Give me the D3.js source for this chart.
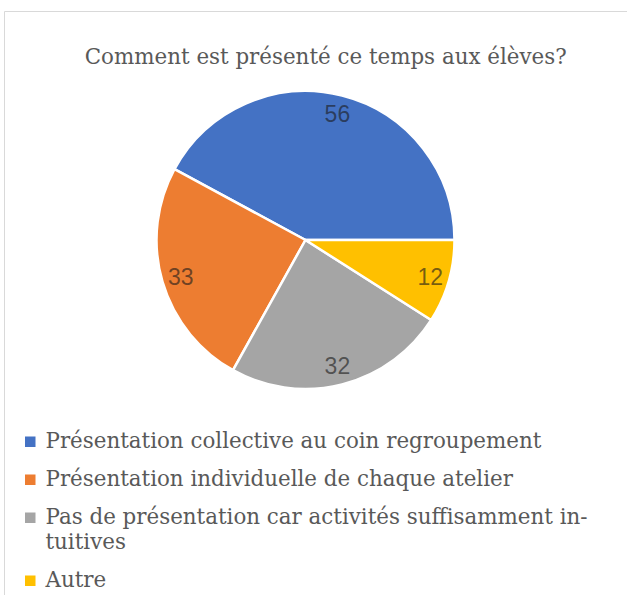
<!DOCTYPE html>
<html>
<head>
<meta charset="utf-8">
<script src="https://cdn.jsdelivr.net/npm/d3@7"></script>
<style>
  html, body { margin: 0; padding: 0; background: #fff; }
  svg { display: block; }
</style>
</head>
<body>
<svg id="chart" width="627" height="595"></svg>
<script>
const title = "Comment est présenté ce temps aux élèves?";
const categories = [
  "Présentation collective au coin regroupement",
  "Présentation individuelle de chaque atelier",
  "Pas de présentation car activités suffisamment in\u00ADtuitives",
  "Autre"
];
const values = [56, 33, 32, 12];
const colors = ["#4472C4", "#ED7D31", "#A5A5A5", "#FFC000"];

const svg = d3.select("#chart");
const serif = "DejaVu Serif";
const textSize = 21.4;
const textColor = "#595959";

// chart frame
svg.append("path")
  .attr("d", "M627,11.5 H4.5 V595")
  .attr("fill", "none")
  .attr("stroke", "#d9d9d9")
  .attr("stroke-width", 1);

// title
svg.append("text")
  .attr("x", 325.7).attr("y", 64)
  .attr("text-anchor", "middle")
  .attr("font-family", serif)
  .attr("font-size", textSize)
  .attr("fill", textColor)
  .text(title);

// pie, drawn counter-clockwise from 3 o'clock
const cx = 305.5, cy = 240, r = 149;
const pie = d3.pie().sort(null)
  .startAngle(Math.PI / 2)
  .endAngle(Math.PI / 2 - 2 * Math.PI);
const arcs = pie(values);
const arc = d3.arc().innerRadius(0).outerRadius(r);
const labelArc = d3.arc().innerRadius(130).outerRadius(130);

const g = svg.append("g").attr("transform", `translate(${cx},${cy})`);
g.selectAll("path.slice").data(arcs).join("path")
  .attr("class", "slice")
  .attr("d", arc)
  .attr("fill", (d, i) => colors[i])
  .attr("stroke", "#fff")
  .attr("stroke-width", 2.5)
  .attr("stroke-linejoin", "round");

g.selectAll("text.val").data(arcs).join("text")
  .attr("class", "val")
  .attr("transform", d => {
    const [x, y] = labelArc.centroid(d);
    return `translate(${x},${y})`;
  })
  .attr("text-anchor", "middle")
  .attr("dy", "0.36em")
  .attr("font-family", "Liberation Sans")
  .attr("font-size", 23)
  .attr("fill", "#1a1a1a")
  .attr("fill-opacity", 0.62)
  .text(d => d.data);

// legend, with line wrapping at spaces and soft hyphens
const legend = svg.append("g");
const wrapWidth = 560;
const meas = legend.append("text")
  .attr("font-family", serif)
  .attr("font-size", textSize);
const width = s => { meas.text(s); return meas.node().getComputedTextLength(); };

function wrap(name) {
  const lines = [];
  let cur = "";
  name.split(" ").forEach(tok => {
    const plain = tok.replace(/\u00AD/g, "");
    const cand = cur ? cur + " " + plain : plain;
    if (width(cand) <= wrapWidth) { cur = cand; return; }
    const parts = tok.split("\u00AD");
    if (parts.length > 1) {
      const head = (cur ? cur + " " : "") + parts[0] + "-";
      if (width(head) <= wrapWidth) {
        lines.push(head);
        cur = parts.slice(1).join("");
        return;
      }
    }
    lines.push(cur);
    cur = plain;
  });
  lines.push(cur);
  return lines;
}

let y = 448;
categories.forEach((name, i) => {
  const lines = wrap(name);
  legend.append("rect")
    .attr("x", 25).attr("y", y - 11.5)
    .attr("width", 10.5).attr("height", 10.5)
    .attr("fill", colors[i]);
  lines.forEach((line, k) => {
    legend.append("text")
      .attr("x", 45.5).attr("y", y + k * 25)
      .attr("font-family", serif)
      .attr("font-size", textSize)
      .attr("fill", textColor)
      .text(line);
  });
  y += 38 + (lines.length - 1) * 25;
});
meas.remove();
</script>
</body>
</html>
